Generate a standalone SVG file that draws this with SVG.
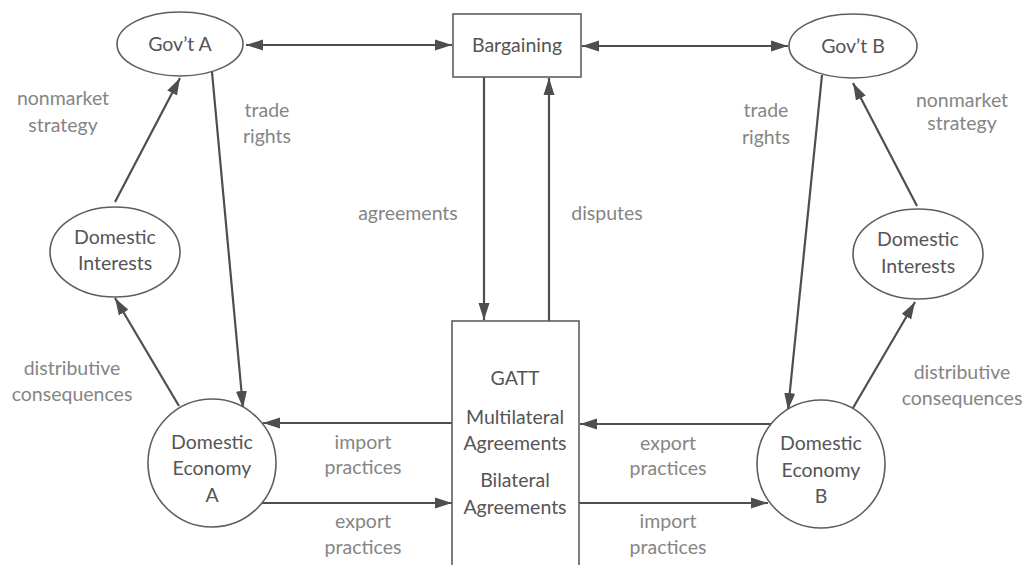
<svg xmlns="http://www.w3.org/2000/svg" width="1025" height="565" viewBox="0 0 1025 565">
<style>
.node{fill:#fff;stroke:#5e5e5e;stroke-width:1.6}
.nt{font-family:Lato,"Open Sans","Liberation Sans",sans-serif;font-size:19.5px;fill:#555;text-anchor:middle}
.lb{font-family:Lato,"Open Sans","Liberation Sans",sans-serif;font-size:19.5px;fill:#858585;text-anchor:middle}
.c{stroke:#4e4e4e;stroke-width:2.2;fill:none;marker-end:url(#ah)}
.cd{stroke:#4e4e4e;stroke-width:2.2;fill:none;marker-end:url(#ah);marker-start:url(#ah)}
</style>
<defs>
<marker id="ah" markerUnits="userSpaceOnUse" markerWidth="18" markerHeight="12" refX="17" refY="5.5" orient="auto-start-reverse" viewBox="0 0 18 11">
<path d="M0,0 L17,5.5 L0,11 z" fill="#4e4e4e"/>
</marker>
</defs>
<rect width="1025" height="565" fill="#fff"/>
<g id="connectors">
<line class="cd" x1="246" y1="45" x2="452" y2="45"/>
<line class="cd" x1="582" y1="46" x2="788" y2="46"/>
<line class="c" x1="484" y1="77" x2="484" y2="320"/>
<line class="c" x1="549" y1="321" x2="549" y2="78"/>
<line class="c" x1="115" y1="202" x2="180" y2="78"/>
<line class="c" x1="179" y1="406" x2="115" y2="298"/>
<line class="c" x1="212" y1="72" x2="243" y2="408"/>
<line class="c" x1="452" y1="423" x2="263" y2="423"/>
<line class="c" x1="262" y1="503" x2="452" y2="503"/>
<line class="c" x1="822" y1="75" x2="788" y2="410"/>
<line class="c" x1="853" y1="408" x2="915" y2="302"/>
<line class="c" x1="917" y1="206" x2="853" y2="83"/>
<line class="c" x1="772" y1="424" x2="580" y2="424"/>
<line class="c" x1="579" y1="503" x2="768" y2="503"/>
</g>
<g id="labels">
<text class="lb" x="63" y="105">nonmarket</text>
<text class="lb" x="63" y="132">strategy</text>
<text class="lb" x="267" y="117">trade</text>
<text class="lb" x="267" y="143">rights</text>
<text class="lb" x="766" y="117">trade</text>
<text class="lb" x="766" y="144">rights</text>
<text class="lb" x="962" y="107">nonmarket</text>
<text class="lb" x="962" y="130">strategy</text>
<text class="lb" x="408" y="220">agreements</text>
<text class="lb" x="607" y="220">disputes</text>
<text class="lb" x="72" y="375">distributive</text>
<text class="lb" x="72" y="401">consequences</text>
<text class="lb" x="962" y="379">distributive</text>
<text class="lb" x="962" y="405">consequences</text>
<text class="lb" x="363" y="449">import</text>
<text class="lb" x="363" y="474">practices</text>
<text class="lb" x="363" y="528">export</text>
<text class="lb" x="363" y="554">practices</text>
<text class="lb" x="668" y="450">export</text>
<text class="lb" x="668" y="475">practices</text>
<text class="lb" x="668" y="528">import</text>
<text class="lb" x="668" y="554">practices</text>
</g>
<g id="govA">
<ellipse class="node" cx="180" cy="44" rx="63" ry="32"/>
<text class="nt" x="180" y="51">Gov’t A</text>
</g>
<g id="bargaining">
<rect class="node" x="453" y="14" width="128" height="63"/>
<text class="nt" x="517" y="52">Bargaining</text>
</g>
<g id="govB">
<ellipse class="node" cx="853" cy="46" rx="64" ry="32"/>
<text class="nt" x="853" y="53">Gov’t B</text>
</g>
<g id="interestsA">
<ellipse class="node" cx="115" cy="252" rx="65" ry="45"/>
<text class="nt" x="115" y="244">Domestic</text>
<text class="nt" x="115" y="270">Interests</text>
</g>
<g id="interestsB">
<ellipse class="node" cx="918" cy="254" rx="65" ry="45"/>
<text class="nt" x="918" y="246">Domestic</text>
<text class="nt" x="918" y="273">Interests</text>
</g>
<g id="economyA">
<circle class="node" cx="212" cy="463" r="64"/>
<text class="nt" x="212" y="449">Domestic</text>
<text class="nt" x="212" y="475">Economy</text>
<text class="nt" x="212" y="502">A</text>
</g>
<g id="economyB">
<circle class="node" cx="821" cy="464" r="64"/>
<text class="nt" x="821" y="450">Domestic</text>
<text class="nt" x="821" y="477">Economy</text>
<text class="nt" x="821" y="503">B</text>
</g>
<g id="gatt">
<rect class="node" x="452" y="321" width="127" height="250"/>
<text class="nt" x="515" y="385">GATT</text>
<text class="nt" x="515" y="424">Multilateral</text>
<text class="nt" x="515" y="450">Agreements</text>
<text class="nt" x="515" y="487">Bilateral</text>
<text class="nt" x="515" y="514">Agreements</text>
</g>
</svg>
